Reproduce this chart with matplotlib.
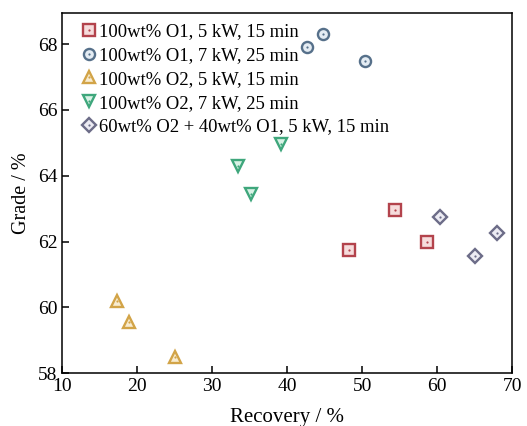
import matplotlib
matplotlib.use("Agg")
import matplotlib.pyplot as plt
from matplotlib.legend_handler import HandlerTuple

plt.rcParams.update({
    "font.family": "Liberation Serif",
    "font.size": 13,
    "xtick.direction": "in", "ytick.direction": "in",
    "xtick.major.size": 5, "ytick.major.size": 5,
    "axes.linewidth": 1.1,
})

# ── Datos ──────────────────────────────────────────────────────────────
labels = [
    "100wt% O1, 5 kW, 15 min",
    "100wt% O1, 7 kW, 25 min",
    "100wt% O2, 5 kW, 15 min",
    "100wt% O2, 7 kW, 25 min",
    "60wt% O2 + 40wt% O1, 5 kW, 15 min",
]
o1_5kw_rec = [48.3, 54.4, 58.7]
o1_5kw_grade = [61.75, 62.95, 62.0]
o1_7kw_rec = [42.7, 44.8, 50.4]
o1_7kw_grade = [67.9, 68.3, 67.5]
o2_5kw_rec = [17.3, 18.9, 25.1]
o2_5kw_grade = [60.2, 59.55, 58.5]
o2_7kw_rec = [33.4, 35.2, 39.2]
o2_7kw_grade = [64.3, 63.45, 64.95]
mix_rec = [60.4, 65.1, 68.0]
mix_grade = [62.75, 61.55, 62.25]

series = [
    (o1_5kw_rec, o1_5kw_grade),
    (o1_7kw_rec, o1_7kw_grade),
    (o2_5kw_rec, o2_5kw_grade),
    (o2_7kw_rec, o2_7kw_grade),
    (mix_rec, mix_grade),
]
markers = ["s", "o", "^", "v", "D"]
edge_colors = ["#b3434c", "#56708a", "#d2a448", "#3fa77c", "#6c6c88"]
face_colors = ["#f6dcdc", "#e4ecf3", "#f8ecd0", "#d9f2e6", "#ecebf3"]
sizes = [8, 8, 9, 9, 7.5]

fig = plt.figure(figsize=(5.27, 4.26), dpi=100)
ax = fig.add_axes([0.118, 0.124, 0.854, 0.846])

handles = []
for (x, y), m, ec, fc, ms in zip(series, markers, edge_colors, face_colors, sizes):
    outer, = ax.plot(x, y, linestyle="none", marker=m, markersize=ms,
                     markeredgewidth=1.7, markeredgecolor=ec, markerfacecolor=fc)
    dot, = ax.plot(x, y, linestyle="none", marker="o", markersize=1.6,
                   markeredgewidth=0, markerfacecolor=ec)
    handles.append((outer, dot))

ax.set_xlim(10, 70)
ax.set_ylim(58, 68.95)
ax.set_xticks(range(10, 71, 10))
ax.set_yticks(range(58, 69, 2))
ax.tick_params(labelsize=14, width=1.1, pad=3.5)
ax.set_xlabel("Recovery / %", fontsize=15, labelpad=9)
ax.set_ylabel("Grade / %", fontsize=14.5, labelpad=5)

ax.legend(handles, labels, handler_map={tuple: HandlerTuple(ndivide=1)},
          loc="upper left", frameon=False, fontsize=13.4,
          handlelength=0.8, handletextpad=0.13, labelspacing=0.36,
          borderaxespad=0, bbox_to_anchor=(0.027, 0.991))

fig.savefig("out.png", dpi=100)
